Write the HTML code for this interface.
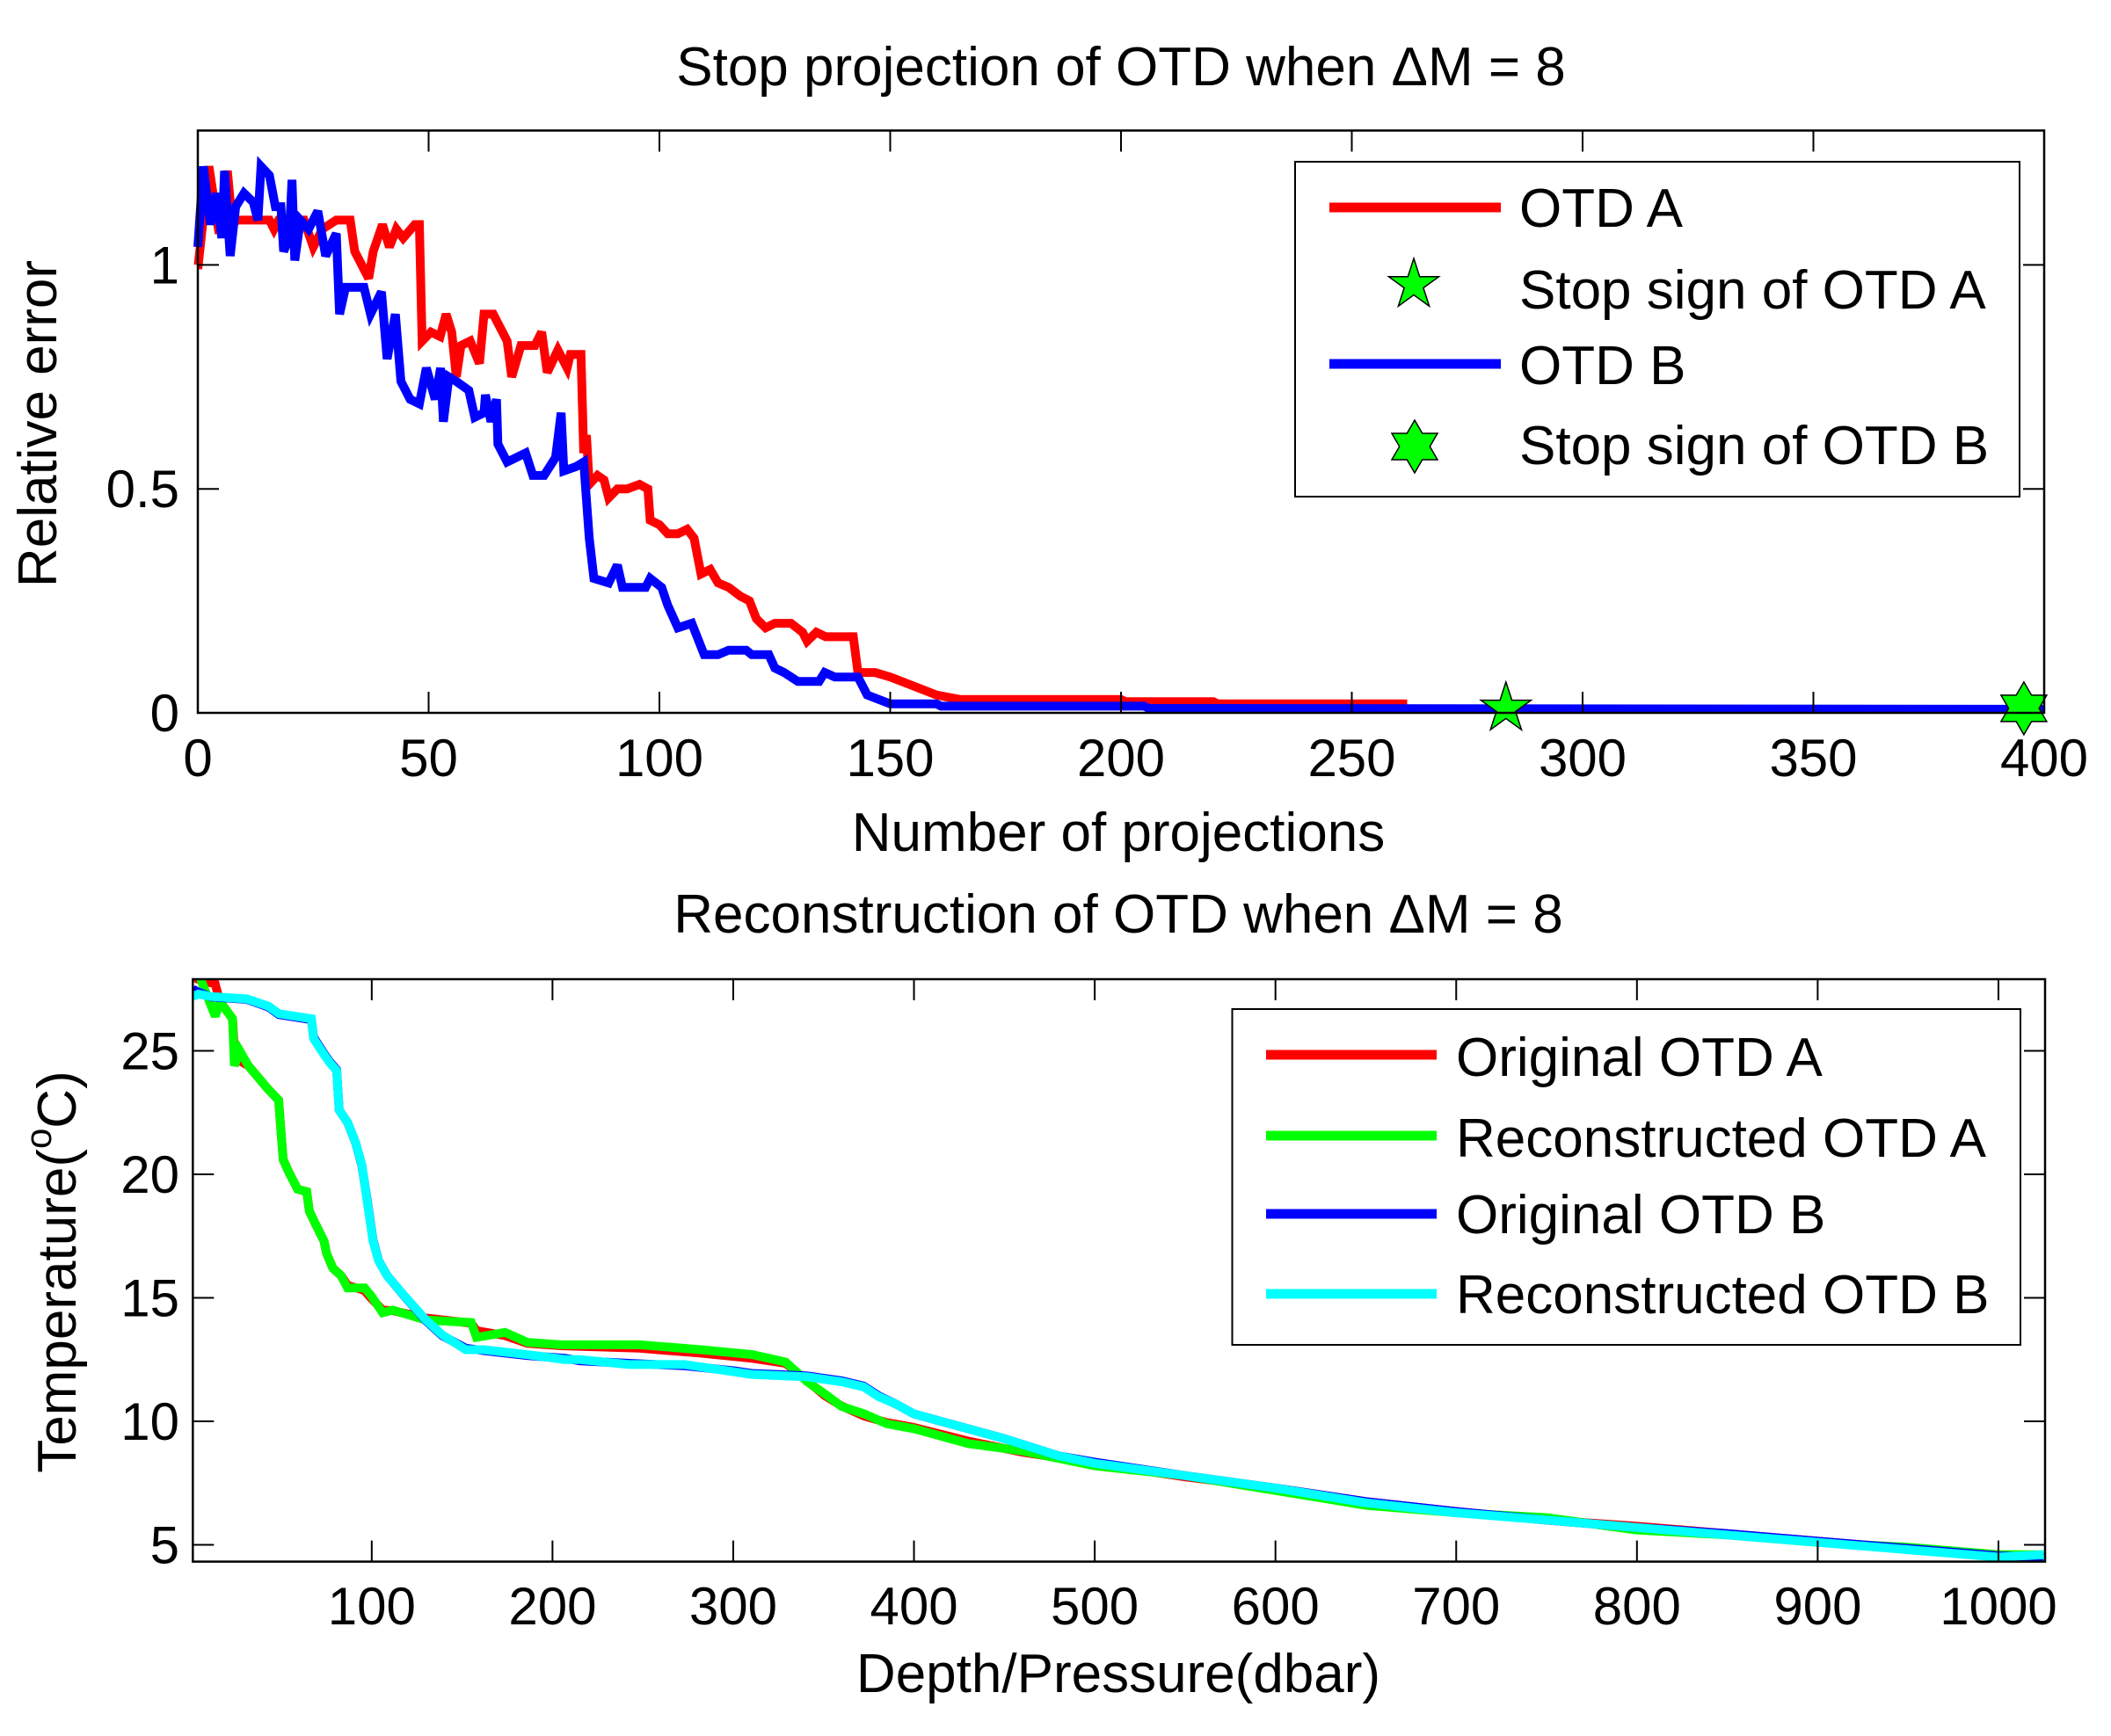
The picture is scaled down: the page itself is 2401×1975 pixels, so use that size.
<!DOCTYPE html>
<html><head><meta charset="utf-8"><style>
html,body{margin:0;padding:0;background:#fff;}
svg{display:block;font-family:"Liberation Sans",Arial,sans-serif;}
</style></head><body>
<svg id="fig" width="2401" height="1975" viewBox="0 0 2401 1975" xmlns="http://www.w3.org/2000/svg">
<rect x="0" y="0" width="2401" height="1975" fill="#fff"/>
<g id="top"></g>
<g id="bot"></g>
</svg>
<script>
// ---- Top chart data ----
const topXTicks = [0,50,100,150,200,250,300,350,400];
const topYTicks = [0,0.5,1];
const topYTickLabels = ["0","0.5","1"];
const otdAx = [0,0.1,2.4,4.6,6.4,7.5,8.5,15.5,16.5,17.5,23,25,27,30,33,34,37,38,40,41.5,43,44.5,47,48,48.6,50.5,52.5,53.8,55,56,57,59,61,62,64,67,68,70,73,74.5,75.7,78,80,80.7,83,83.6,84.2,84.8,86.6,88,89,90.9,93,95.7,97.5,98,100,101.8,104,106,107.5,109,111,112.7,115,117.6,119.5,121,123,125,128.5,131,132,134,136,138,142,143,146.7,150,155,160,165,200,201,220,221,262];
const otdAy = [1.0,1.0,1.22,1.07,1.21,1.09,1.1,1.1,1.08,1.1,1.1,1.04,1.08,1.1,1.1,1.03,0.97,1.03,1.09,1.04,1.08,1.06,1.09,1.09,0.83,0.85,0.84,0.89,0.85,0.75,0.82,0.83,0.78,0.89,0.89,0.83,0.75,0.82,0.82,0.85,0.76,0.81,0.77,0.8,0.8,0.58,0.62,0.51,0.53,0.52,0.48,0.5,0.5,0.51,0.5,0.43,0.42,0.4,0.4,0.41,0.39,0.31,0.32,0.29,0.28,0.26,0.25,0.21,0.19,0.2,0.2,0.18,0.16,0.18,0.17,0.17,0.17,0.09,0.09,0.08,0.06,0.04,0.03,0.03,0.025,0.025,0.02,0.02];
const otdBx = [0,1.2,2.7,4,5.2,5.8,7,8.2,10,12,13,13.7,15.5,16.8,18,18.6,19.8,20.4,21,22.2,24,26,27.7,30,30.7,32,36,37.4,39.8,41,42.8,44,46,48,49.5,51.4,52.6,53.2,54.4,56,58.7,60,62,62.3,63.5,64.7,65,67,71,72.6,75,77.5,78.7,79.3,82,83.6,84.8,85.8,89,90.9,92,97,98,100.5,101.8,104,107,109.7,112.7,115,118.8,120,123.7,125,127,130,134.6,135.8,138,143,145,150,160,161,205,206,400];
const otdBy = [1.04,1.22,1.09,1.16,1.06,1.21,1.02,1.13,1.16,1.14,1.1,1.22,1.2,1.13,1.13,1.03,1.06,1.19,1.01,1.1,1.08,1.12,1.02,1.07,0.89,0.95,0.95,0.89,0.94,0.79,0.89,0.74,0.7,0.69,0.77,0.7,0.77,0.65,0.75,0.74,0.72,0.66,0.67,0.71,0.65,0.7,0.6,0.56,0.58,0.53,0.53,0.57,0.67,0.54,0.55,0.56,0.39,0.3,0.29,0.33,0.28,0.28,0.3,0.28,0.24,0.19,0.2,0.13,0.13,0.14,0.14,0.13,0.13,0.1,0.09,0.07,0.07,0.09,0.08,0.08,0.04,0.02,0.02,0.015,0.015,0.01,0.008];
const stopX = [283.4,395.6];
const stopY = [0.01,0.01];

// ---- Bottom chart data ----
const botXTicks = [100,200,300,400,500,600,700,800,900,1000];
const botYTicks = [5,10,15,20,25];
const depA = [1,3.7,13.4,16,23,24,27,31.7,42,48.5,49.4,51,54,59,64,65.5,68.8,73.6,75,78.5,83,86.6,96,99.5,106,111.6,130,155,158,173.8,186,204.8,248,282,310.5,329,341,350.8,360,372.5,385,400,430,460,500,550,600,650,700,750,800,850,900,950,1000,1025];
const tempA = [28.2,27.9,27.7,27,26.3,25,24.6,24.4,23.5,23,22.1,20.6,20.1,19.4,19.3,18.5,18,17.3,16.8,16.2,15.9,15.5,15.3,15,14.5,14.48,14.18,13.97,13.67,13.47,13.16,13.06,12.96,12.76,12.55,12.35,11.64,11.03,10.62,10.21,9.95,9.75,9.2,8.75,8.3,7.75,7.3,6.75,6.35,6.0,5.75,5.45,5.15,4.85,4.6,4.5];
const reconA = [28.0,28.2,26.4,27.0,26.3,24.4,25.0,24.4,23.5,23.0,22.1,20.6,20.1,19.4,19.3,18.5,18.0,17.3,16.8,16.2,15.9,15.4,15.4,15.1,14.4,14.5,14.1,14.0,13.4,13.6,13.2,13.1,13.1,12.9,12.7,12.4,11.6,11.1,10.6,10.3,9.9,9.7,9.1,8.8,8.2,7.8,7.2,6.6,6.3,6.1,5.6,5.4,5.1,4.9,4.6,4.6];
const depB = [1,4,11,31,43,48.6,66.6,67.8,74,77,80.6,82,86.6,91,94.5,97.5,100.7,103.8,108.5,117.8,130,139,152,162,186,207,215,242,273,301,310,341,360,372,380.5,390,400,420,450,480,500,550,600,650,700,750,800,850,900,950,1000,1025];
const tempB = [27.5,27.38,27.18,27.08,26.77,26.47,26.26,25.55,24.84,24.54,24.23,22.6,22.1,21.29,20.37,18.95,17.33,16.51,15.9,15.09,14.07,13.47,12.96,12.86,12.66,12.55,12.45,12.35,12.25,12.04,11.94,11.84,11.64,11.43,11.03,10.7,10.3,9.9,9.3,8.6,8.35,7.8,7.3,6.75,6.35,6.0,5.7,5.45,5.15,4.85,4.55,4.5];
const reconB = [27.2,27.3,27.2,27.1,26.8,26.5,26.3,25.5,24.8,24.5,24.2,22.6,22.1,21.3,20.4,18.9,17.3,16.5,15.9,15.1,14.1,13.5,12.9,12.9,12.7,12.5,12.5,12.3,12.3,12.0,11.9,11.8,11.6,11.4,11.0,10.7,10.3,9.9,9.3,8.6,8.3,7.8,7.3,6.7,6.3,6.0,5.7,5.4,5.1,4.8,4.5,4.6];

const NS = "http://www.w3.org/2000/svg";
function mk(parent, tag, attrs, text){
  const e = document.createElementNS(NS, tag);
  for (const k in attrs) e.setAttribute(k, attrs[k]);
  if (text !== undefined) e.textContent = text;
  parent.appendChild(e);
  return e;
}
function lin(d0,d1,p0,p1){ return v => p0 + (v-d0)*(p1-p0)/(d1-d0); }

// ===== TOP CHART =====
const gT = document.getElementById('top');
const tL=225, tR=2325, tTop=148.5, tBot=811;
const sx1 = lin(0,400,tL,tR), sy1 = lin(0,1.3,tBot,tTop);

function seriesPath(xs, ys, sx, sy){
  return xs.map((x,i)=>(i?'L':'M')+sx(x).toFixed(1)+','+sy(ys[i]).toFixed(1)).join(' ');
}
let p;
p = mk(gT,'path',{d:seriesPath(otdAx,otdAy,sx1,sy1),fill:'none',stroke:'#ff0000','stroke-width':10,'stroke-linejoin':'miter','stroke-miterlimit':3});


p = mk(gT,'path',{d:seriesPath(otdBx,otdBy,sx1,sy1),fill:'none',stroke:'#0000ff','stroke-width':10,'stroke-linejoin':'miter','stroke-miterlimit':3});



function pentagram(cx,cy,R){
  const r=R*0.382; let pts=[];
  for(let i=0;i<10;i++){const a=-Math.PI/2+i*Math.PI/5; const rr=i%2?r:R; pts.push((cx+rr*Math.cos(a)).toFixed(1)+','+(cy+rr*Math.sin(a)).toFixed(1));}
  return pts.join(' ');
}
function hexagram(cx,cy,R){
  const r=R*0.577; let pts=[];
  for(let i=0;i<12;i++){const a=-Math.PI/2+i*Math.PI/6; const rr=i%2?r:R; pts.push((cx+rr*Math.cos(a)).toFixed(1)+','+(cy+rr*Math.sin(a)).toFixed(1));}
  return pts.join(' ');
}
p = mk(gT,'polygon',{points:pentagram(sx1(stopX[0]),sy1(stopY[0]),30),fill:'#00ff00',stroke:'#000','stroke-width':1.5});


p = mk(gT,'polygon',{points:hexagram(sx1(stopX[1]),sy1(stopY[1]),30),fill:'#00ff00',stroke:'#000','stroke-width':1.5});



p = mk(gT,'rect',{x:tL,y:tTop,width:tR-tL,height:tBot-tTop,fill:'none',stroke:'#000','stroke-width':2.5});


topXTicks.forEach(v=>{
  const x=sx1(v);
  mk(gT,'line',{x1:x,y1:tBot,x2:x,y2:tBot-24,stroke:'#000','stroke-width':2});
  mk(gT,'line',{x1:x,y1:tTop,x2:x,y2:tTop+24,stroke:'#000','stroke-width':2});
  const t=mk(gT,'text',{x:x,y:883,'font-size':60,'text-anchor':'middle'},String(v));
  
  
});
topYTicks.forEach((v,i)=>{
  const y=sy1(v);
  mk(gT,'line',{x1:tL,y1:y,x2:tL+24,y2:y,stroke:'#000','stroke-width':2});
  mk(gT,'line',{x1:tR,y1:y,x2:tR-24,y2:y,stroke:'#000','stroke-width':2});
  const t=mk(gT,'text',{x:204,y:y+21,'font-size':60,'text-anchor':'end'},topYTickLabels[i]);
  
  
});
let t;
t=mk(gT,'text',{x:1275,y:97,'font-size':62,'text-anchor':'middle'},'Stop projection of OTD when \u0394M = 8');


t=mk(gT,'text',{x:1272,y:968,'font-size':62,'text-anchor':'middle'},'Number of projections');


t=mk(gT,'text',{x:0,y:0,'font-size':62,'text-anchor':'middle',transform:'translate(64,482) rotate(-90)'},'Relative error');



// top legend
const lg = mk(gT,'g',{});


mk(lg,'rect',{x:1473,y:184,width:824,height:381,fill:'#fff',stroke:'#000','stroke-width':2});
mk(lg,'line',{x1:1512,y1:236,x2:1707,y2:236,stroke:'#ff0000','stroke-width':11});
mk(lg,'polygon',{points:pentagram(1608,324,30),fill:'#00ff00',stroke:'#000','stroke-width':1.5});
mk(lg,'line',{x1:1512,y1:414,x2:1707,y2:414,stroke:'#0000ff','stroke-width':11});
mk(lg,'polygon',{points:hexagram(1609,508,30),fill:'#00ff00',stroke:'#000','stroke-width':1.5});
[['OTD A',258],['Stop sign of OTD A',351],['OTD B',437],['Stop sign of OTD B',528]].forEach(a=>{
  const e=mk(lg,'text',{x:1728,y:a[1],'font-size':62},a[0]);
  
  
});

// ===== BOTTOM CHART =====
const gB = document.getElementById('bot');
const bL=219.3, bR=2326, bTop=1114, bBot=1776.6;
const sx2 = lin(1,1025.8,bL,bR), sy2 = lin(4.32,27.9,bBot,bTop);
const clip = mk(gB,'clipPath',{id:'bclip'});
mk(clip,'rect',{x:bL,y:bTop,width:bR-bL,height:bBot-bTop});
const sg = mk(gB,'g',{'clip-path':'url(#bclip)'});
[[depA,tempA,'#ff0000','original-otd-a-line'],[depA,reconA,'#00ff00','reconstructed-otd-a-line'],[depB,tempB,'#0000ff','original-otd-b-line'],[depB,reconB,'#00ffff','reconstructed-otd-b-line']].forEach(s=>{
  const e=mk(sg,'path',{d:seriesPath(s[0],s[1],sx2,sy2),fill:'none',stroke:s[2],'stroke-width':10,'stroke-linejoin':'miter','stroke-miterlimit':3});
  
  
});
p = mk(gB,'rect',{x:bL,y:bTop,width:bR-bL,height:bBot-bTop,fill:'none',stroke:'#000','stroke-width':2.5});


botXTicks.forEach(v=>{
  const x=sx2(v);
  mk(gB,'line',{x1:x,y1:bBot,x2:x,y2:bBot-24,stroke:'#000','stroke-width':2});
  mk(gB,'line',{x1:x,y1:bTop,x2:x,y2:bTop+24,stroke:'#000','stroke-width':2});
  const e=mk(gB,'text',{x:x,y:1848,'font-size':60,'text-anchor':'middle'},String(v));
  
  
});
botYTicks.forEach(v=>{
  const y=sy2(v);
  mk(gB,'line',{x1:bL,y1:y,x2:bL+24,y2:y,stroke:'#000','stroke-width':2});
  mk(gB,'line',{x1:bR,y1:y,x2:bR-24,y2:y,stroke:'#000','stroke-width':2});
  const e=mk(gB,'text',{x:204,y:y+21,'font-size':60,'text-anchor':'end'},String(v));
  
  
});
t=mk(gB,'text',{x:1272,y:1061,'font-size':62,'text-anchor':'middle'},'Reconstruction of OTD when \u0394M = 8');


t=mk(gB,'text',{x:1272,y:1925,'font-size':62,'text-anchor':'middle'},'Depth/Pressure(dbar)');


t=mk(gB,'text',{x:0,y:0,'font-size':62,'text-anchor':'middle',transform:'translate(86,1447) rotate(-90)'});


mk(t,'tspan',{},'Temperature(');
mk(t,'tspan',{'font-size':42,dy:-28},'o');
mk(t,'tspan',{dy:28},'C)');

const lg2 = mk(gB,'g',{});


mk(lg2,'rect',{x:1401.5,y:1148,width:896.5,height:382,fill:'#fff',stroke:'#000','stroke-width':2});
[['Original OTD A','#ff0000',1200,1224],['Reconstructed OTD A','#00ff00',1292,1316],['Original OTD B','#0000ff',1381,1403],['Reconstructed OTD B','#00ffff',1472,1494]].forEach(a=>{
  mk(lg2,'line',{x1:1440,y1:a[2],x2:1634,y2:a[2],stroke:a[1],'stroke-width':11});
  const e=mk(lg2,'text',{x:1656,y:a[3],'font-size':62},a[0]);
  
  
});
</script>
</body></html>
